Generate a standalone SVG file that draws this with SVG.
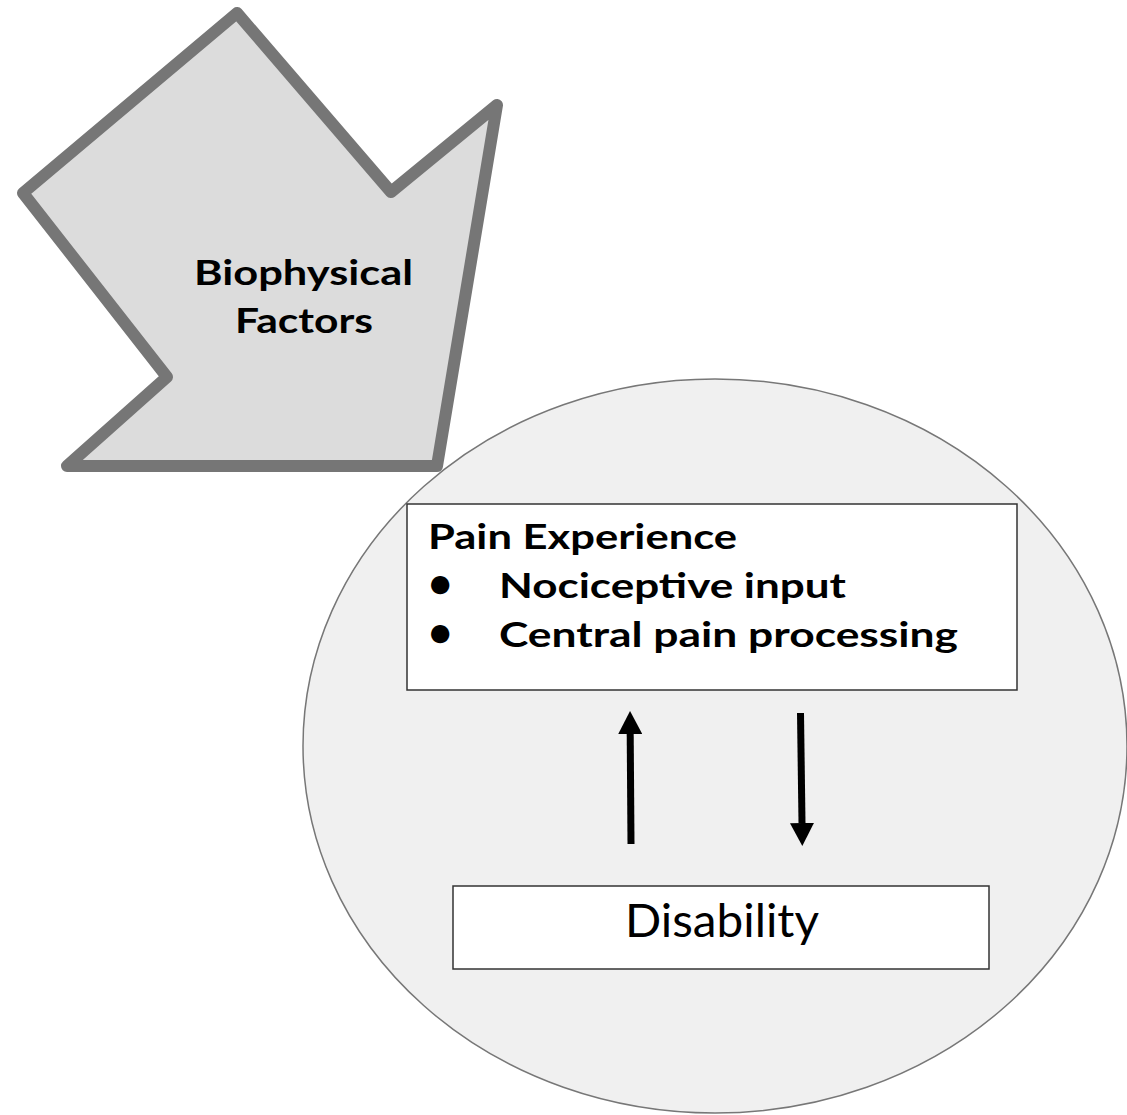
<svg xmlns="http://www.w3.org/2000/svg" width="1127" height="1115" viewBox="0 0 1127 1115">
<style>
.bold{font-family:Lato,"Open Sans","Liberation Sans",sans-serif;font-weight:bold;font-size:35px;fill:#000}
.reg{font-family:Lato,"Open Sans","Liberation Sans",sans-serif;font-size:46px;fill:#000}
.box{fill:#fff;stroke:#333;stroke-width:1.5}
.conn{stroke:#000;stroke-width:7;fill:none}
</style>
<defs>
<marker id="ah" markerUnits="userSpaceOnUse" markerWidth="24" markerHeight="24" refX="0" refY="12" orient="auto" viewBox="0 0 24 24">
<path d="M0,0 L23,12 L0,24 Z" fill="#000"/>
</marker>
</defs>
<rect width="1127" height="1115" fill="#fff"/>
<g id="context">
<ellipse cx="715" cy="746" rx="412" ry="367" fill="#f0f0f0" stroke="#777" stroke-width="1.5"/>
</g>
<g id="biophysical">
<polygon points="237,13 391,192 497,105 437,466 67,466 167,377 23,193" fill="#dcdcdc" stroke="#767676" stroke-width="12" stroke-linejoin="round"/>
<text class="bold" x="303.5" y="285" text-anchor="middle" textLength="219" lengthAdjust="spacingAndGlyphs">Biophysical</text>
<text class="bold" x="304" y="333" text-anchor="middle" textLength="138" lengthAdjust="spacingAndGlyphs">Factors</text>
</g>
<g id="pain-experience">
<rect class="box" x="407" y="504" width="610" height="186"/>
<text class="bold" x="428" y="549" textLength="309" lengthAdjust="spacingAndGlyphs">Pain Experience</text>
<text class="bold" y="598"><tspan x="428" style="font-size:42px">•</tspan><tspan x="499" textLength="347" lengthAdjust="spacingAndGlyphs">Nociceptive input</tspan></text>
<text class="bold" y="647"><tspan x="428" style="font-size:42px">•</tspan><tspan x="499" textLength="459" lengthAdjust="spacingAndGlyphs">Central pain processing</tspan></text>
</g>
<g id="disability">
<rect class="box" x="453" y="886" width="536" height="83"/>
<text class="reg" x="722" y="937" text-anchor="middle" textLength="194" lengthAdjust="spacingAndGlyphs">Disability</text>
</g>
<g id="connectors">
<line class="conn" x1="631" y1="844" x2="630.2" y2="734" marker-end="url(#ah)"/>
<line class="conn" x1="800.5" y1="713" x2="802" y2="823" marker-end="url(#ah)"/>
</g>
</svg>
